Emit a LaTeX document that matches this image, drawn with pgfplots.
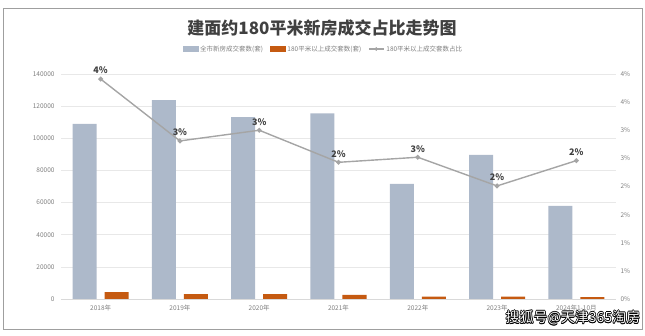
\documentclass[border=0pt]{standalone}
\usepackage{pgfplots}
\pgfplotsset{compat=1.18}
\usepackage{fontspec}
\setmainfont{Noto Sans CJK SC}
\definecolor{barGray}{HTML}{ADB9CA}
\definecolor{barOrange}{HTML}{C55A11}
\definecolor{lineGray}{HTML}{A5A5A5}
\definecolor{gridGray}{HTML}{E8E8E8}
\definecolor{axisGray}{HTML}{D9D9D9}
\definecolor{tickGray}{HTML}{7F7F7F}
\definecolor{titleGray}{HTML}{404040}
\pgfplotstableread{
x total big ratio lab
0 109000 4200 0.0391 4
1 123800 3100 0.0281 3
2 113200 3100 0.0300 3
3 115500 2500 0.0243 2
4 71600 1400 0.0252 3
5 89600 1400 0.0201 2
6 57900 1200 0.0246 2
}\datatable
\begin{document}
\begin{tikzpicture}
\path[use as bounding box] (0pt,0pt) rectangle (645pt,336pt);
\draw[gray!75, line width=0.9pt] (3pt,328pt) rectangle (642pt,7pt);
\node[font=\fontsize{17}{20}\selectfont\bfseries, text=titleGray] at (322pt,307.5pt) {建面约180平米新房成交占比走势图};
\begin{axis}[
  at={(61pt,37pt)}, anchor=south west,
  scale only axis, width=555pt, height=225pt,
  xmin=-0.5, xmax=6.5, ymin=0, ymax=140000,
  xtick={0,...,6},
  xticklabels={2018年,2019年,2020年,2021年,2022年,2023年,2024年1-10月},
  ytick={0,20000,40000,60000,80000,100000,120000,140000},
  yticklabels={0,20000,40000,60000,80000,100000,120000,140000},
  scaled y ticks=false,
  axis y line*=left, axis x line*=bottom,
  y axis line style={draw=none},
  x axis line style={draw=axisGray, line width=0.8pt},
  major tick length=0pt,
  ymajorgrids, grid style={gridGray, line width=0.6pt},
  tick label style={font=\fontsize{6.5}{7}\selectfont, text=tickGray},
  yticklabel style={xshift=-3pt},
  xticklabel style={yshift=-2pt},
  legend style={at={(0.473,1.111)}, anchor=center, draw=none, fill=none,
    font=\fontsize{6.5}{7}\selectfont, text=tickGray,
    legend columns=3, /tikz/every even column/.append style={column sep=5pt},
    inner sep=0pt},
  legend cell align=left,
]
\addplot[ybar, bar width=24pt, bar shift=-16pt, fill=barGray, draw=none, forget plot] table[x=x,y=total] {\datatable};
\addplot[ybar, bar width=24pt, bar shift=16pt, fill=barOrange, draw=none, forget plot] table[x=x,y=big] {\datatable};
\addlegendimage{legend image code/.code={\fill[barGray] (0pt,-2.5pt) rectangle (15pt,2.5pt);}}
\addlegendentry{全市新房成交套数(套)}
\addlegendimage{legend image code/.code={\fill[barOrange] (0pt,-2.5pt) rectangle (15pt,2.5pt);}}
\addlegendentry{180平米以上成交套数(套)}
\addlegendimage{legend image code/.code={\draw[lineGray,line width=1.2pt] (0pt,0pt) -- (15pt,0pt); \fill[lineGray] (7.5pt,0pt) circle (1.6pt);}}
\addlegendentry{180平米以上成交套数占比}
\end{axis}
\begin{axis}[
  at={(61pt,37pt)}, anchor=south west,
  scale only axis, width=555pt, height=225pt,
  xmin=-0.5, xmax=6.5, ymin=0, ymax=0.04,
  axis y line*=right, hide x axis,
  y axis line style={draw=none},
  major tick length=0pt,
  scaled y ticks=false,
  ytick={0,0.005,0.01,0.015,0.02,0.025,0.03,0.035,0.04},
  yticklabels={0\%,1\%,1\%,2\%,2\%,3\%,3\%,4\%,4\%},
  tick label style={font=\fontsize{6.5}{7}\selectfont, text=tickGray},
  yticklabel style={xshift=1pt},
]
\addplot[lineGray, line width=1.4pt, mark=*, mark size=1.7pt,
  mark options={fill=lineGray, draw=lineGray},
  nodes near coords={\pgfplotspointmeta\%},
  point meta=explicit symbolic,
  every node near coord/.append style={font=\fontsize{9}{10}\selectfont\bfseries, text=titleGray, yshift=1pt}]
  table[x=x,y=ratio,meta=lab] {\datatable};
\end{axis}
\foreach \dx/\dy in {-0.7/0,0.7/0,0/-0.7,0/0.7,-0.5/-0.5,0.5/0.5,-0.5/0.5,0.5/-0.5}{
  \node[font=\fontsize{14}{16}\selectfont, text=black] at (573pt+\dx pt,18pt+\dy pt) {搜狐号@天津365淘房};
}
\node[font=\fontsize{14}{16}\selectfont, text=white] at (573pt,18pt) {搜狐号@天津365淘房};
\end{tikzpicture}
\end{document}
